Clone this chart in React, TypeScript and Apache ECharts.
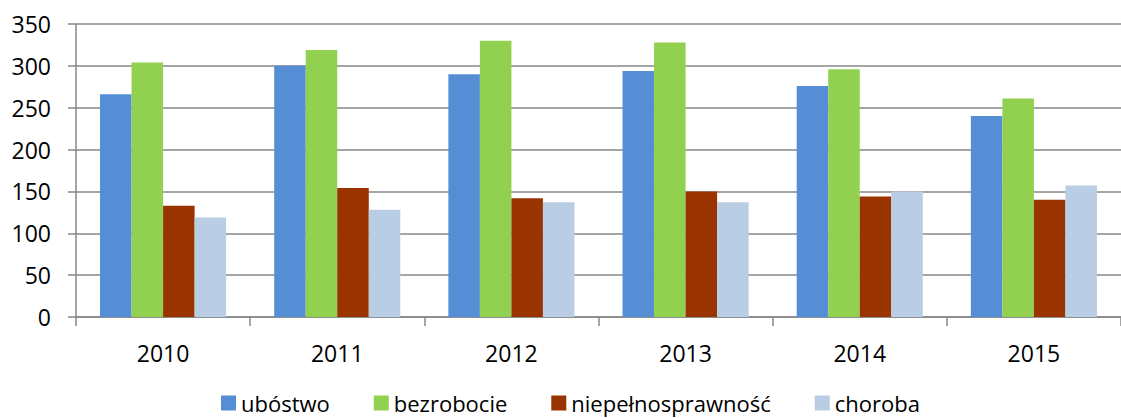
import React, { useEffect, useRef } from "react";
import * as echarts from "echarts";

const categories = ["2010", "2011", "2012", "2013", "2014", "2015"];
const ubostwo = [266, 300, 290, 294, 276, 240];
const bezrobocie = [304, 319, 330, 328, 296, 261];
const niepelnosprawnosc = [133, 154, 142, 150, 144, 140];
const choroba = [119, 128, 137, 137, 150, 157];
const seriesNames = ["ubóstwo", "bezrobocie", "niepełnosprawność", "choroba"];
const colors = ["#558ED5", "#92D050", "#993300", "#B9CDE5"];

const FONT = "Open Sans";

export default function App() {
  const ref = useRef<HTMLDivElement>(null);
  useEffect(() => {
    document.body.style.margin = "0";
    document.body.style.overflow = "hidden";
    const chart = echarts.init(ref.current!, null, { renderer: "svg" });
    const data = [ubostwo, bezrobocie, niepelnosprawnosc, choroba];
    chart.setOption({
      animation: false,
      backgroundColor: "#ffffff",
      textStyle: { fontFamily: FONT },
      grid: { left: 76, top: 24, bottom: 101, right: -8, containLabel: false },
      legend: {
        data: seriesNames,
        left: 216,
        top: 387,
        itemWidth: 15,
        itemHeight: 15,
        itemGap: 44,
        icon: "rect",
        textStyle: { fontFamily: FONT, fontSize: 22, color: "#000", lineHeight: 22 },
      },
      xAxis: {
        type: "category",
        data: categories,
        axisLine: { lineStyle: { color: "#878787", width: 1.5 } },
        axisTick: { show: true, length: 9, lineStyle: { color: "#878787", width: 1.5 } },
        axisLabel: { fontFamily: FONT, fontSize: 23, color: "#000", margin: 24 },
      },
      yAxis: {
        type: "value",
        min: 0,
        max: 350,
        interval: 50,
        axisLine: { show: true, lineStyle: { color: "#878787", width: 1.5 } },
        axisTick: { show: true, length: 8, lineStyle: { color: "#878787", width: 1.5 } },
        splitLine: { lineStyle: { color: "#878787", width: 1.5 } },
        axisLabel: { fontFamily: FONT, fontSize: 23, color: "#000", margin: 25 },
      },
      series: seriesNames.map((name, i) => ({
        name,
        type: "bar",
        data: data[i],
        barGap: "0%",
        barCategoryGap: "27.6%",
        itemStyle: { color: colors[i] },
      })),
    });
    return () => chart.dispose();
  }, []);
  return <div ref={ref} style={{ width: 1121, height: 418 }} />;
}
